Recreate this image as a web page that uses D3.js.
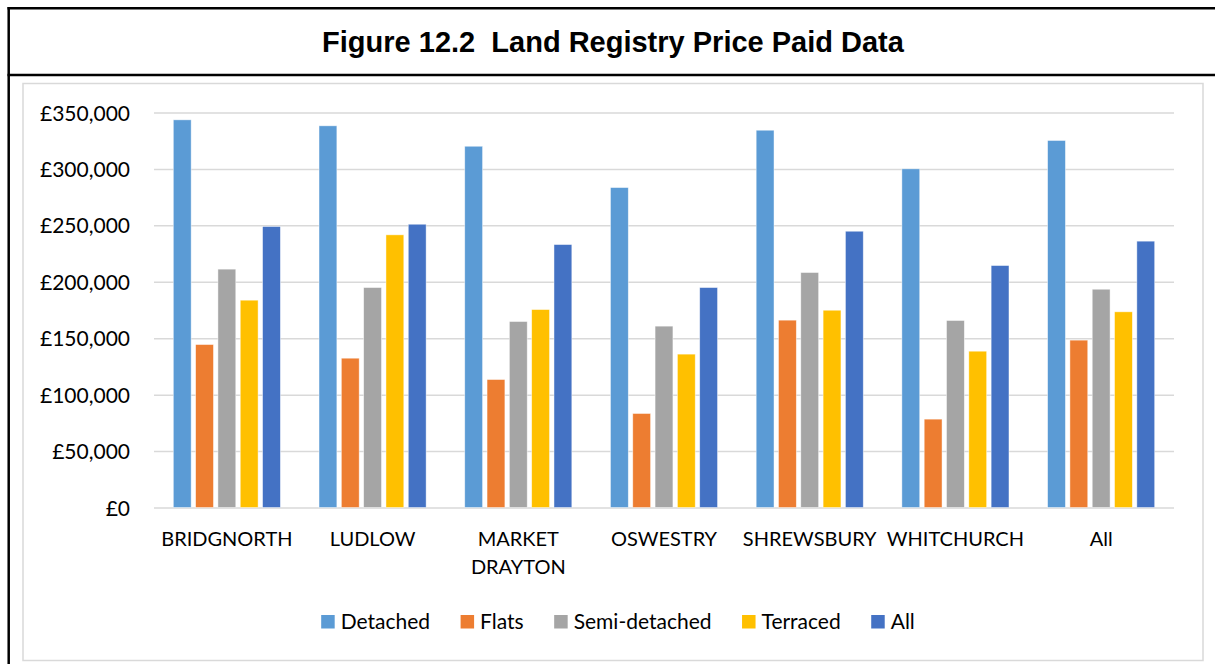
<!DOCTYPE html>
<html>
<head>
<meta charset="utf-8">
<script src="https://cdn.jsdelivr.net/npm/d3@7"></script>
<style>
  body { margin: 0; background: #fff; }
  text { font-family: Lato, "Open Sans", sans-serif; fill: #000; }
</style>
</head>
<body>
<script>
/* Datos */
const categorias = ["BRIDGNORTH", "LUDLOW", "MARKET DRAYTON", "OSWESTRY", "SHREWSBURY", "WHITCHURCH", "All"];
const series = ["Detached", "Flats", "Semi-detached", "Terraced", "All"];
const detached = [343500, 338200, 320100, 283500, 334300, 300100, 325200];
const flats = [144400, 132300, 113400, 83300, 166000, 78300, 148300];
const semiDetached = [211200, 194900, 164800, 160700, 208200, 165700, 193400];
const terraced = [183700, 241600, 175400, 135900, 174800, 138500, 173400];
const allTypes = [249000, 251000, 233000, 194900, 244800, 214400, 236000];
const yTicks = [0, 50000, 100000, 150000, 200000, 250000, 300000, 350000];
const colores = ["#5B9BD5", "#ED7D31", "#A5A5A5", "#FFC000", "#4472C4"];

let width = 1215;
let height = 664;

let margin = {
    top: 112.5,
    bottom: 507.5,
    left: 154,
    right: 1174
};

// tabla por grupo: una fila por categoria con los 5 valores
const valores = [detached, flats, semiDetached, terraced, allTypes];
const datos = categorias.map((c, i) => ({
    cat: c,
    vals: series.map((s, j) => ({ serie: s, value: valores[j][i] }))
}));

let svg = d3.select("body")
            .append("svg")
            .attr("width", width)
            .attr("height", height);

/* Marco */
svg.append("rect").attr("width", width).attr("height", height).attr("fill", "#fff");
svg.append("line").attr("x1", 7.5).attr("x2", width).attr("y1", 8.3).attr("y2", 8.3)
   .attr("stroke", "#000").attr("stroke-width", 2.5);
svg.append("line").attr("x1", 7.5).attr("x2", width).attr("y1", 75).attr("y2", 75)
   .attr("stroke", "#000").attr("stroke-width", 2.5);
svg.append("line").attr("x1", 8.7).attr("x2", 8.7).attr("y1", 7).attr("y2", height)
   .attr("stroke", "#000").attr("stroke-width", 2.5);

svg.append("text")
   .attr("x", 613)
   .attr("y", 52)
   .attr("text-anchor", "middle")
   .style("font-family", "'Liberation Sans', Arial, sans-serif")
   .style("font-weight", "bold")
   .style("font-size", "29px")
   .style("white-space", "pre")
   .text("Figure 12.2  Land Registry Price Paid Data");

// caja del grafico
svg.append("rect")
   .attr("x", 23).attr("y", 83.5)
   .attr("width", 1180).attr("height", 577)
   .attr("fill", "#fff")
   .attr("stroke", "#D9D9D9")
   .attr("stroke-width", 1.5);

/* Escalas */
let escalaY = d3.scaleLinear()
                .domain([0, 350000])
                .range([margin.bottom, margin.top]);

let escalaX = d3.scaleBand()
                .domain(categorias)
                .range([margin.left, margin.right])
                .paddingInner(0.265)
                .paddingOuter(0.1325);

let escalaSerie = d3.scaleBand()
                    .domain(series)
                    .range([0, escalaX.bandwidth()])
                    .paddingInner(0.2);

let color = d3.scaleOrdinal().domain(series).range(colores);

/* Eje Y con rejilla */
let ejeY = d3.axisLeft(escalaY)
             .tickValues(yTicks)
             .tickFormat(d => "£" + d3.format(",")(d))
             .tickSize(-(margin.right - margin.left))
             .tickPadding(24);

let gY = svg.append("g")
            .attr("transform", "translate(" + margin.left + ",0)")
            .call(ejeY);
gY.select(".domain").remove();
gY.selectAll(".tick line").attr("stroke", "#D9D9D9").attr("stroke-width", 1.5);
gY.selectAll(".tick text")
  .attr("dy", "0.36em")
  .style("font-family", "Lato, sans-serif")
  .style("font-size", "21px");

/* Barras */
let grupos = svg.selectAll("g.grupo")
    .data(datos)
    .join("g")
    .attr("class", "grupo")
    .attr("transform", d => "translate(" + escalaX(d.cat) + ",0)");

grupos.selectAll("rect")
    .data(d => d.vals)
    .join("rect")
    .attr("x", d => escalaSerie(d.serie))
    .attr("y", d => escalaY(d.value))
    .attr("width", escalaSerie.bandwidth())
    .attr("height", d => escalaY(0) - escalaY(d.value))
    .attr("fill", d => color(d.serie))
    .attr("stroke", "#fff")
    .attr("stroke-opacity", 0.6)
    .attr("stroke-width", 0.75);

/* Eje X */
let ejeX = d3.axisBottom(escalaX).tickSize(0).tickPadding(24);
let gX = svg.append("g")
            .attr("transform", "translate(0," + margin.bottom + ")")
            .call(ejeX);
gX.select(".domain").remove();
gX.selectAll(".tick text")
  .style("font-family", "Lato, sans-serif")
  .style("font-size", "20px")
  .each(function(d) {
      // partir etiquetas largas en dos lineas
      let t = d3.select(this);
      if (this.getComputedTextLength() > escalaX.step() - 4 && d.indexOf(" ") > 0) {
          let palabras = d.split(" ");
          let y = t.attr("y");
          t.text(null);
          palabras.forEach((p, i) => {
              t.append("tspan")
               .attr("x", 0)
               .attr("y", y)
               .attr("dy", (0.71 + i * 1.42) + "em")
               .text(p);
          });
      }
  });

/* Leyenda */
let leyenda = svg.append("g");
let hueco = 30.5;
let posX = 0;
series.forEach(function(s) {
    let item = leyenda.append("g").attr("transform", "translate(" + posX + ",0)");
    item.append("rect")
        .attr("x", 0).attr("y", 615)
        .attr("width", 13.5).attr("height", 13.5)
        .attr("fill", color(s));
    let txt = item.append("text")
        .attr("x", 19.5)
        .attr("y", 629)
        .style("font-size", "21px")
        .text(s);
    posX += 19.5 + txt.node().getComputedTextLength() + hueco;
});
let anchoLeyenda = posX - hueco;
leyenda.attr("transform", "translate(" + (618 - anchoLeyenda / 2) + ",0)");
</script>
</body>
</html>
